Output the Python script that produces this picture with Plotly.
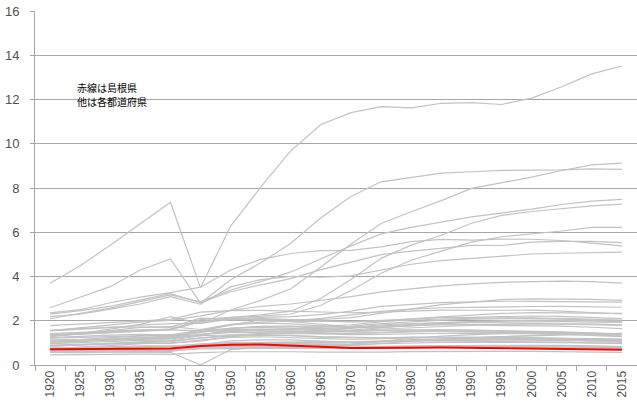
import plotly.graph_objects as go

years = ["1920", "1925", "1930", "1935", "1940", "1945", "1950", "1955", "1960", "1965",
         "1970", "1975", "1980", "1985", "1990", "1995", "2000", "2005", "2010", "2015"]

# population in thousands (47 prefectures)
hokkaido = [2359, 2499, 2812, 3068, 3272, 3518, 4296, 4773, 5039, 5172, 5184, 5338, 5576, 5679, 5644, 5692, 5683, 5628, 5506, 5382]
aomori = [756, 813, 880, 967, 1001, 1083, 1283, 1383, 1427, 1417, 1428, 1469, 1524, 1524, 1483, 1482, 1476, 1437, 1373, 1308]
iwate = [846, 901, 975, 1046, 1096, 1228, 1347, 1427, 1449, 1411, 1371, 1386, 1422, 1434, 1417, 1420, 1416, 1385, 1330, 1280]
miyagi = [962, 1044, 1143, 1235, 1271, 1462, 1663, 1727, 1743, 1753, 1819, 1955, 2082, 2176, 2249, 2329, 2365, 2360, 2348, 2334]
akita = [899, 936, 988, 1038, 1052, 1212, 1309, 1349, 1336, 1280, 1241, 1232, 1257, 1254, 1227, 1214, 1189, 1146, 1086, 1023]
yamagata = [969, 1027, 1080, 1117, 1119, 1326, 1357, 1354, 1321, 1263, 1226, 1220, 1252, 1262, 1258, 1257, 1244, 1216, 1169, 1124]
fukushima = [1363, 1438, 1508, 1582, 1625, 1957, 2062, 2095, 2051, 1984, 1946, 1971, 2035, 2080, 2104, 2134, 2127, 2091, 2029, 1914]
ibaraki = [1350, 1409, 1487, 1549, 1620, 1944, 2039, 2064, 2047, 2056, 2144, 2342, 2558, 2725, 2845, 2956, 2986, 2975, 2970, 2917]
tochigi = [1046, 1090, 1142, 1195, 1207, 1546, 1550, 1548, 1514, 1522, 1580, 1698, 1792, 1866, 1935, 1984, 2005, 2017, 2008, 1974]
gunma = [1053, 1119, 1186, 1242, 1299, 1546, 1601, 1614, 1578, 1606, 1659, 1756, 1849, 1922, 1966, 2004, 2025, 2024, 2008, 1973]
saitama = [1320, 1394, 1459, 1529, 1608, 2047, 2146, 2263, 2431, 3015, 3866, 4821, 5420, 5864, 6405, 6759, 6938, 7054, 7195, 7267]
chiba = [1336, 1399, 1470, 1546, 1588, 1967, 2139, 2205, 2306, 2702, 3367, 4149, 4735, 5148, 5555, 5798, 5926, 6056, 6216, 6223]
tokyo = [3699, 4485, 5409, 6370, 7355, 3488, 6278, 8037, 9684, 10869, 11408, 11674, 11618, 11829, 11856, 11774, 12064, 12577, 13159, 13515]
kanagawa = [1323, 1417, 1620, 1840, 2189, 1866, 2488, 2919, 3443, 4431, 5472, 6398, 6924, 7432, 7980, 8246, 8490, 8792, 9048, 9126]
niigata = [1776, 1850, 1933, 1996, 2064, 2390, 2461, 2473, 2442, 2399, 2361, 2392, 2451, 2478, 2475, 2488, 2476, 2431, 2374, 2304]
toyama = [724, 749, 779, 799, 823, 954, 1009, 1021, 1033, 1025, 1030, 1071, 1103, 1118, 1120, 1123, 1121, 1112, 1093, 1066]
ishikawa = [747, 751, 757, 768, 758, 888, 957, 966, 973, 980, 1002, 1070, 1119, 1152, 1165, 1180, 1181, 1174, 1170, 1154]
fukui = [599, 597, 618, 647, 643, 725, 752, 754, 753, 751, 744, 774, 794, 818, 824, 827, 829, 822, 806, 787]
yamanashi = [583, 601, 631, 647, 663, 839, 811, 807, 782, 763, 762, 783, 804, 833, 853, 882, 888, 885, 863, 835]
nagano = [1563, 1629, 1717, 1714, 1711, 2121, 2061, 2021, 1982, 1958, 1957, 2018, 2084, 2137, 2157, 2194, 2215, 2196, 2152, 2099]
gifu = [1070, 1133, 1179, 1226, 1265, 1519, 1545, 1584, 1638, 1700, 1759, 1868, 1960, 2029, 2067, 2100, 2108, 2107, 2081, 2032]
shizuoka = [1550, 1671, 1798, 1940, 2018, 2220, 2471, 2650, 2756, 2913, 3090, 3309, 3447, 3575, 3671, 3738, 3767, 3792, 3765, 3700]
aichi = [2090, 2319, 2567, 2862, 3167, 2858, 3391, 3769, 4206, 4799, 5386, 5924, 6222, 6455, 6691, 6868, 7043, 7255, 7411, 7483]
mie = [1069, 1108, 1157, 1175, 1199, 1394, 1461, 1486, 1485, 1514, 1543, 1626, 1687, 1747, 1793, 1841, 1857, 1867, 1855, 1816]
shiga = [651, 663, 692, 711, 704, 861, 861, 854, 843, 853, 890, 986, 1080, 1156, 1222, 1287, 1343, 1380, 1411, 1413]
kyoto = [1287, 1406, 1553, 1703, 1730, 1604, 1833, 1935, 1993, 2103, 2250, 2425, 2527, 2587, 2602, 2630, 2644, 2648, 2636, 2610]
osaka = [2588, 3060, 3540, 4297, 4793, 2801, 3857, 4618, 5505, 6657, 7620, 8279, 8473, 8668, 8735, 8797, 8805, 8817, 8865, 8839]
hyogo = [2302, 2455, 2646, 2923, 3221, 2822, 3310, 3621, 3906, 4309, 4668, 4992, 5145, 5278, 5405, 5402, 5551, 5591, 5588, 5535]
nara = [565, 584, 597, 621, 620, 780, 764, 777, 781, 826, 930, 1077, 1209, 1305, 1375, 1431, 1443, 1421, 1401, 1364]
wakayama = [750, 787, 831, 864, 865, 936, 982, 1007, 1002, 1027, 1043, 1072, 1087, 1087, 1074, 1080, 1070, 1036, 1002, 964]
tottori = [455, 472, 489, 490, 484, 563, 600, 614, 599, 580, 569, 581, 604, 616, 616, 615, 613, 607, 589, 573]
shimane = [715, 722, 740, 747, 741, 861, 913, 929, 889, 822, 774, 769, 785, 795, 781, 771, 762, 742, 717, 694]
okayama = [1218, 1238, 1284, 1333, 1329, 1565, 1661, 1690, 1670, 1645, 1707, 1814, 1871, 1917, 1926, 1951, 1951, 1957, 1945, 1922]
hiroshima = [1541, 1617, 1692, 1805, 1870, 1885, 2082, 2149, 2184, 2281, 2436, 2646, 2739, 2819, 2850, 2882, 2879, 2877, 2861, 2844]
yamaguchi = [1041, 1095, 1136, 1191, 1294, 1356, 1541, 1610, 1602, 1544, 1511, 1555, 1587, 1602, 1573, 1556, 1528, 1493, 1451, 1405]
tokushima = [670, 690, 717, 729, 719, 836, 879, 878, 847, 815, 791, 805, 825, 835, 832, 832, 824, 810, 785, 756]
kagawa = [678, 700, 733, 749, 730, 864, 946, 944, 919, 901, 908, 961, 1000, 1023, 1023, 1027, 1023, 1012, 996, 976]
ehime = [1046, 1097, 1142, 1164, 1179, 1361, 1522, 1541, 1501, 1446, 1418, 1465, 1507, 1530, 1515, 1507, 1493, 1468, 1431, 1385]
kochi = [671, 688, 718, 715, 709, 776, 874, 883, 855, 813, 787, 808, 831, 840, 825, 817, 814, 796, 764, 728]
fukuoka = [2188, 2302, 2527, 2756, 3094, 2747, 3530, 3860, 4007, 3965, 4027, 4293, 4553, 4719, 4811, 4933, 5016, 5050, 5072, 5102]
saga = [674, 684, 692, 686, 701, 830, 945, 974, 943, 872, 838, 838, 866, 880, 878, 884, 877, 866, 850, 833]
nagasaki = [1136, 1164, 1233, 1296, 1370, 1319, 1645, 1748, 1760, 1641, 1570, 1572, 1591, 1594, 1563, 1545, 1517, 1479, 1427, 1377]
kumamoto = [1233, 1297, 1354, 1387, 1368, 1556, 1828, 1896, 1856, 1771, 1700, 1715, 1790, 1838, 1840, 1860, 1859, 1842, 1817, 1786]
oita = [860, 915, 946, 980, 973, 1124, 1253, 1277, 1240, 1187, 1156, 1190, 1229, 1250, 1237, 1231, 1221, 1210, 1197, 1166]
miyazaki = [651, 691, 760, 824, 841, 914, 1091, 1139, 1135, 1081, 1051, 1085, 1152, 1176, 1169, 1176, 1170, 1153, 1135, 1104]
kagoshima = [1416, 1473, 1557, 1592, 1590, 1538, 1804, 2044, 1963, 1854, 1729, 1724, 1785, 1819, 1798, 1794, 1786, 1753, 1706, 1648]
okinawa = [572, 557, 578, 592, 575, 0, 698, 801, 883, 934, 945, 1043, 1107, 1179, 1222, 1273, 1318, 1362, 1393, 1434]

others = [hokkaido, aomori, iwate, miyagi, akita, yamagata, fukushima, ibaraki, tochigi, gunma,
          saitama, chiba, tokyo, kanagawa, niigata, toyama, ishikawa, fukui, yamanashi, nagano,
          gifu, shizuoka, aichi, mie, shiga, kyoto, osaka, hyogo, nara, wakayama, tottori,
          okayama, hiroshima, yamaguchi, tokushima, kagawa, ehime, kochi, fukuoka, saga,
          nagasaki, kumamoto, oita, miyazaki, kagoshima, okinawa]

y_ticks = [0, 2, 4, 6, 8, 10, 12, 14, 16]
note_lines = ["赤線は島根県", "他は各都道府県"]

fig = go.Figure()
for s in others:
    fig.add_trace(go.Scatter(x=years, y=[v / 1000 for v in s], mode="lines",
                             line=dict(color="#c2c2c2", width=1.2), hoverinfo="skip",
                             showlegend=False))
fig.add_trace(go.Scatter(x=years, y=[v / 1000 for v in shimane], mode="lines",
                         line=dict(color="#ff0000", width=2), showlegend=False))

note_font = dict(family="Noto Sans CJK JP", size=10, color="#000000")
annotations = [
    dict(x=0.068, y=12.55, xref="paper", yref="y", text=note_lines[0], showarrow=False,
         xanchor="left", yanchor="middle", borderpad=0, font=note_font),
    dict(x=0.068, y=11.9, xref="paper", yref="y", text=note_lines[1], showarrow=False,
         xanchor="left", yanchor="middle", borderpad=0, font=note_font),
]

fig.update_layout(
    width=637, height=407,
    margin=dict(l=35, r=0, t=11, b=42, autoexpand=False),
    paper_bgcolor="white", plot_bgcolor="white",
    font=dict(family="Liberation Sans, Arial", size=12, color="#505050"),
    xaxis=dict(type="category", range=[-0.5, 19.5], tickson="boundaries",
               ticks="outside", ticklen=5, tickcolor="#a6a6a6",
               showline=True, linecolor="#a6a6a6", linewidth=1,
               showgrid=False, tickangle=-90, tickfont=dict(size=12),
               automargin=False),
    yaxis=dict(range=[0, 16], tickvals=y_ticks, ticks="outside", ticklen=4,
               tickcolor="#a6a6a6", showline=True, linecolor="#a6a6a6", linewidth=1,
               showgrid=True, gridcolor="#a6a6a6", gridwidth=1, zeroline=False,
               tickfont=dict(size=13), ticklabelstandoff=8, automargin=False),
    annotations=annotations,
)

fig.write_html("out.html", config={"displayModeBar": False},
               post_script="document.body.style.margin='0';document.body.style.padding='0';")
